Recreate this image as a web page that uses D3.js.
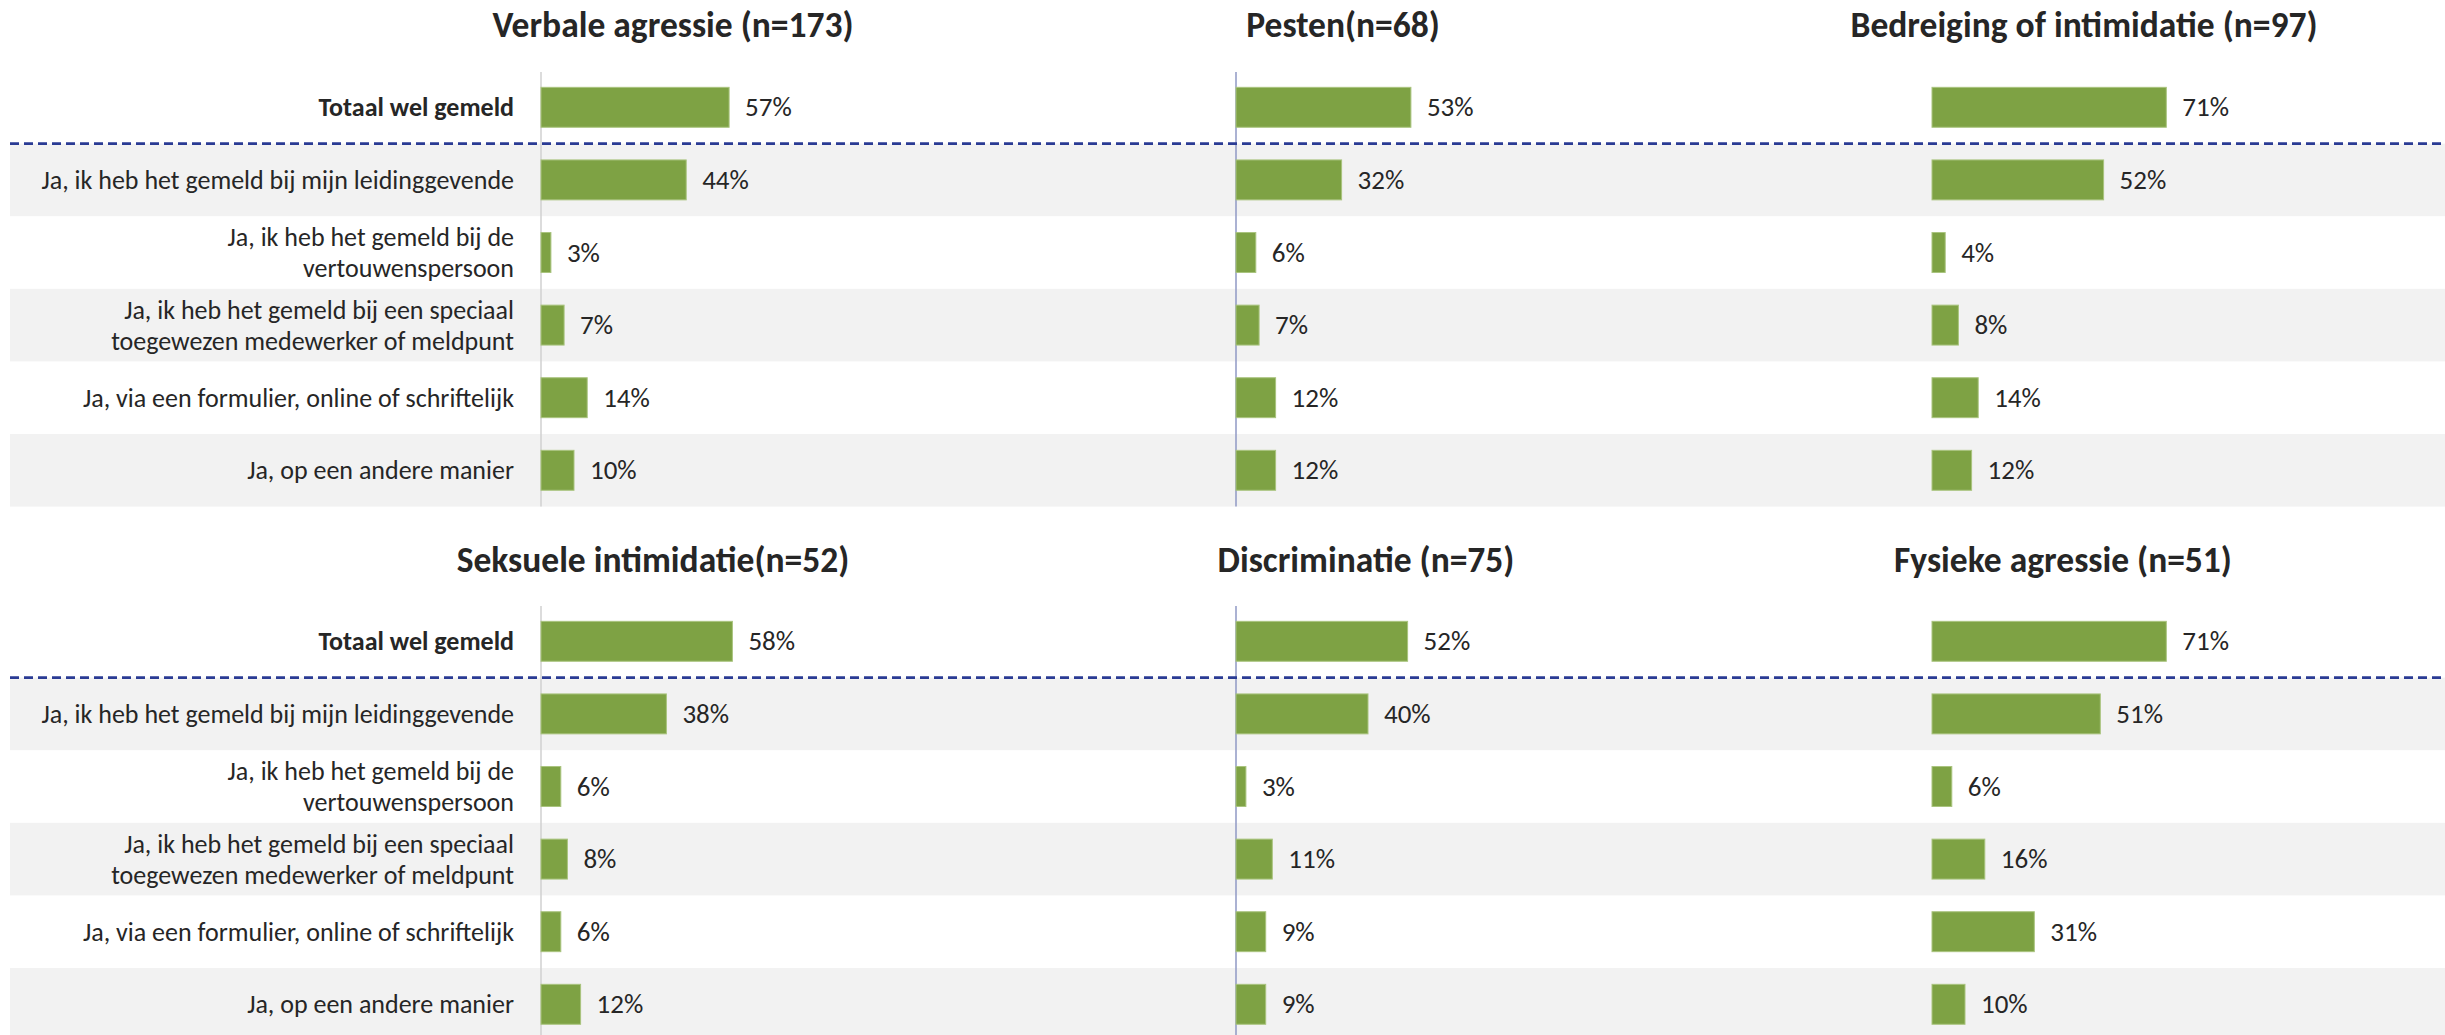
<!DOCTYPE html>
<html>
<head>
<meta charset="utf-8">
<script src="https://cdn.jsdelivr.net/npm/d3@7"></script>
<style>
  html, body { margin: 0; padding: 0; background: #fff; }
  svg { display: block; font-family: Carlito, Lato, "Open Sans", sans-serif; }
</style>
</head>
<body>
<svg id="chart" width="2445" height="1035"></svg>
<script>
// categories, one entry per row (multi-line labels as arrays)
var categories = [
    ["Totaal wel gemeld"],
    ["Ja, ik heb het gemeld bij mijn leidinggevende"],
    ["Ja, ik heb het gemeld bij de", "vertouwenspersoon"],
    ["Ja, ik heb het gemeld bij een speciaal", "toegewezen medewerker of meldpunt"],
    ["Ja, via een formulier, online of schriftelijk"],
    ["Ja, op een andere manier"]
];

var titles = [
    "Verbale agressie (n=173)",
    "Pesten(n=68)",
    "Bedreiging of intimidatie (n=97)",
    "Seksuele intimidatie(n=52)",
    "Discriminatie (n=75)",
    "Fysieke agressie (n=51)"
];

var verbaleValues       = [57, 44, 3, 7, 14, 10];
var pestenValues        = [53, 32, 6, 7, 12, 12];
var bedreigingValues    = [71, 52, 4, 8, 14, 12];
var seksueleValues      = [58, 38, 6, 8, 6, 12];
var discriminatieValues = [52, 40, 3, 11, 9, 9];
var fysiekeValues       = [71, 51, 6, 16, 31, 10];

var seriesValues = [verbaleValues, pestenValues, bedreigingValues,
                    seksueleValues, discriminatieValues, fysiekeValues];

// layout
var width = 2445,
    colAxisX = [541, 1236, 1932],
    titleX = [673, 1343, 2084, 653, 1366, 2063],
    rowTop = [71, 605],
    rowStep = 72.6,
    labelRight = 514,
    lineGap = 31,
    green = "#7ea244";

var svg = d3.select("#chart");

var x = d3.scaleLinear().domain([0, 100]).range([0, 330]);
var rowIdx = d3.range(categories.length);

function drawBlock(block){
    var top = rowTop[block];
    var y = d3.scaleBand()
        .domain(rowIdx)
        .range([top, top + rowStep * categories.length])
        .paddingInner(0.45)
        .paddingOuter(0.225);

    var g = svg.append("g");

    // zebra bands (rows 1, 3, 5)
    g.selectAll("rect.band")
        .data(rowIdx.filter(function(i){ return i % 2 === 1; }))
        .enter().append("rect")
        .attr("class", "band")
        .attr("x", 10)
        .attr("width", width - 10)
        .attr("y", function(i){ return top + i * rowStep; })
        .attr("height", rowStep)
        .attr("fill", "#f2f2f2");

    // category labels
    var lab = g.selectAll("text.cat")
        .data(rowIdx)
        .enter().append("text")
        .attr("class", "cat")
        .attr("text-anchor", "end")
        .attr("fill", "#262626")
        .style("font-size", "26px")
        .style("font-weight", function(i){ return i === 0 ? "bold" : "normal"; })
        .attr("y", function(i){ return y(i) + y.bandwidth() / 2; });

    lab.each(function(i){
        var lines = categories[i],
            t = d3.select(this);
        lines.forEach(function(line, k){
            t.append("tspan")
                .attr("x", labelRight)
                .attr("dy", k === 0 ? ((-(lines.length - 1) * lineGap) / 2 + 9) : lineGap)
                .text(line);
        });
    });

    // axis lines
    g.append("line")
        .attr("x1", colAxisX[0]).attr("x2", colAxisX[0])
        .attr("y1", top + 1).attr("y2", top + rowStep * 6)
        .attr("stroke", "#d0d0d0").attr("stroke-width", 1.5);
    g.append("line")
        .attr("x1", colAxisX[1]).attr("x2", colAxisX[1])
        .attr("y1", top + 1).attr("y2", top + rowStep * 6)
        .attr("stroke", "#8f98c4").attr("stroke-width", 1.5);

    // panels
    for(var c = 0; c < 3; c++){
        var p = block * 3 + c,
            vals = seriesValues[p],
            x0 = colAxisX[c];

        svg.append("text")
            .attr("x", titleX[p])
            .attr("y", block === 0 ? 37 : 572)
            .attr("text-anchor", "middle")
            .attr("fill", "#262626")
            .style("font-size", "35.5px")
            .style("font-weight", "bold")
            .text(titles[p]);

        var pg = svg.append("g");
        pg.selectAll("rect.bar")
            .data(vals)
            .enter().append("rect")
            .attr("class", "bar")
            .attr("x", x0)
            .attr("y", function(d, i){ return y(i); })
            .attr("width", function(d){ return x(d); })
            .attr("height", y.bandwidth())
            .attr("fill", green)
            .attr("stroke", "#a9c47e")
            .attr("stroke-width", 1);

        pg.selectAll("text.val")
            .data(vals)
            .enter().append("text")
            .attr("class", "val")
            .attr("x", function(d){ return x0 + x(d) + 16; })
            .attr("y", function(d, i){ return y(i) + y.bandwidth() / 2 + 9; })
            .attr("fill", "#262626")
            .style("font-size", "27px")
            .text(function(d){ return d + "%"; });
    }

    // dashed separator under "Totaal"
    svg.append("line")
        .attr("x1", 10).attr("x2", width)
        .attr("y1", top + rowStep).attr("y2", top + rowStep)
        .attr("stroke", "#2a3b94")
        .attr("stroke-width", 2.8)
        .attr("stroke-dasharray", "9,5");
}

drawBlock(0);
drawBlock(1);
</script>
</body>
</html>
